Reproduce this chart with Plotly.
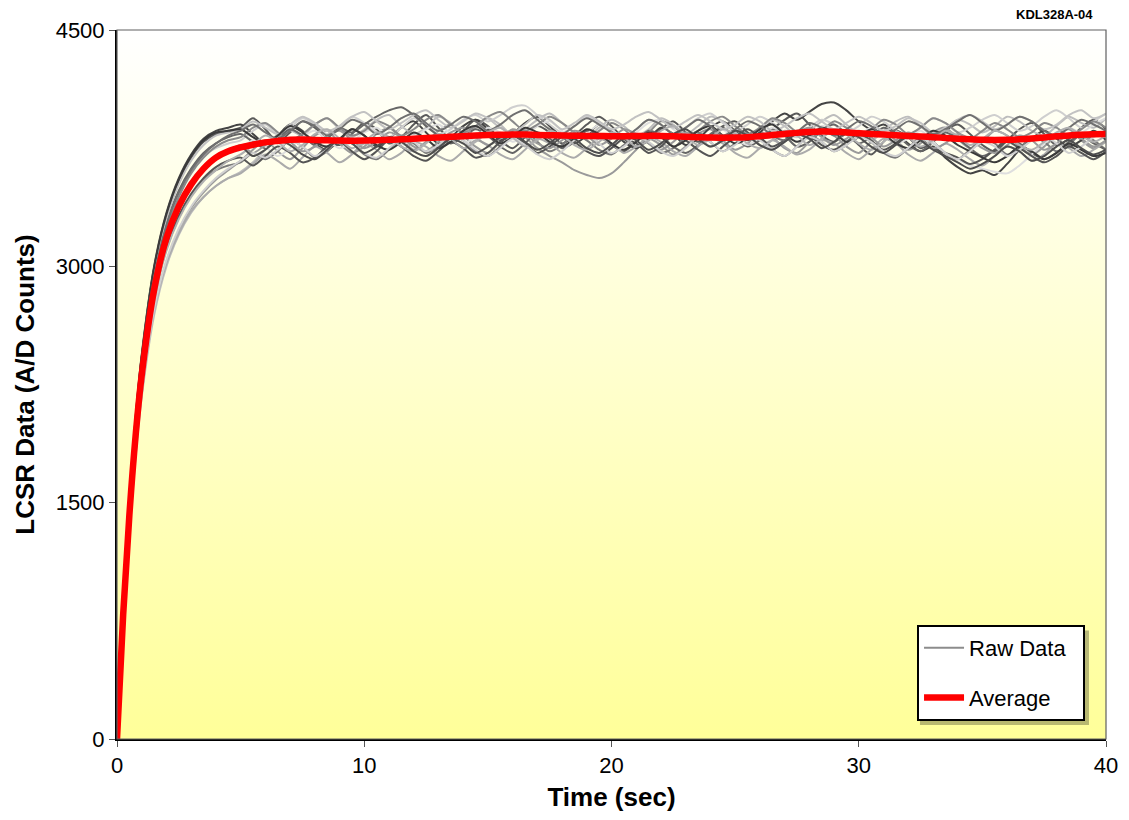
import plotly.graph_objects as go

# ---------------- data ----------------
TIME = [0, 0.25, 0.5, 0.75, 1, 1.5, 2, 2.5, 3, 3.5, 4, 4.5,
        5, 5.5, 6, 6.5, 7, 7.5, 8, 8.5, 9, 9.5,
        10, 10.5, 11, 11.5, 12, 12.5, 13, 13.5, 14, 14.5,
        15, 15.5, 16, 16.5, 17, 17.5, 18, 18.5, 19, 19.5,
        20, 20.5, 21, 21.5, 22, 22.5, 23, 23.5, 24, 24.5,
        25, 25.5, 26, 26.5, 27, 27.5, 28, 28.5, 29, 29.5,
        30, 30.5, 31, 31.5, 32, 32.5, 33, 33.5, 34, 34.5,
        35, 35.5, 36, 36.5, 37, 37.5, 38, 38.5, 39, 39.5, 40]

raw_01 = [0, 850, 1500, 2020, 2420, 2980, 3320, 3540, 3690, 3790, 3840, 3860,
          3880, 3940, 3870, 3790, 3850, 3920, 3880, 3800, 3770, 3840,
          3910, 3870, 3780, 3820, 3900, 3960, 3880, 3810, 3860, 3930,
          3890, 3800, 3750, 3820, 3890, 3850, 3780, 3830, 3900, 3950,
          3890, 3810, 3760, 3800, 3870, 3920, 3850, 3790, 3830, 3890,
          3920, 3850, 3800, 3870, 3930, 3970, 3900, 3830, 3790, 3840,
          3770, 3710, 3790, 3860, 3820, 3750, 3790, 3860, 3900, 3840,
          3770, 3730, 3800, 3870, 3910, 3840, 3770, 3810, 3880, 3930, 3870]
raw_02 = [0, 730, 1330, 1810, 2190, 2720, 3030, 3230, 3370, 3470, 3550, 3610,
          3670, 3740, 3800, 3730, 3680, 3750, 3830, 3860, 3780, 3720,
          3760, 3840, 3880, 3810, 3740, 3790, 3860, 3900, 3830, 3760,
          3720, 3790, 3860, 3820, 3750, 3700, 3660, 3610, 3580, 3560,
          3590, 3660, 3740, 3810, 3770, 3710, 3760, 3840, 3870, 3800,
          3740, 3780, 3850, 3820, 3750, 3720, 3790, 3860, 3830, 3760,
          3720, 3790, 3850, 3800, 3740, 3780, 3850, 3880, 3810, 3750,
          3790, 3860, 3830, 3760, 3710, 3760, 3830, 3870, 3800, 3750, 3800]
raw_03 = [0, 860, 1520, 2040, 2440, 3000, 3340, 3560, 3710, 3810, 3860, 3880,
          3900, 3840, 3780, 3830, 3900, 3860, 3780, 3740, 3800, 3870,
          3830, 3760, 3810, 3880, 3920, 3850, 3780, 3820, 3890, 3930,
          3870, 3800, 3840, 3910, 3950, 3890, 3820, 3780, 3830, 3900,
          3860, 3790, 3750, 3810, 3880, 3840, 3770, 3810, 3880, 3920,
          3860, 3800, 3850, 3920, 3970, 3930, 3980, 4030, 4040, 3990,
          3920, 3870, 3900, 3850, 3780, 3730, 3760, 3690, 3630, 3590,
          3610, 3580, 3650, 3740, 3810, 3860, 3810, 3760, 3800, 3860, 3800]
raw_04 = [0, 720, 1310, 1790, 2170, 2690, 3000, 3200, 3340, 3440, 3510, 3560,
          3600, 3660, 3740, 3800, 3860, 3830, 3900, 3940, 3870, 3820,
          3870, 3930, 3960, 3890, 3840, 3880, 3950, 3910, 3840, 3880,
          3940, 3900, 3830, 3870, 3930, 3970, 3910, 3850, 3820, 3880,
          3930, 3890, 3830, 3870, 3940, 3900, 3840, 3890, 3950, 3920,
          3850, 3810, 3870, 3930, 3890, 3830, 3860, 3920, 3960, 3900,
          3840, 3800, 3860, 3920, 3950, 3890, 3830, 3870, 3930, 3900,
          3850, 3890, 3950, 3920, 3860, 3830, 3890, 3950, 3910, 3880, 3940]
raw_05 = [0, 760, 1380, 1870, 2250, 2790, 3110, 3310, 3450, 3550, 3610, 3640,
          3660, 3720, 3680, 3730, 3800, 3760, 3690, 3730, 3800, 3780,
          3710, 3680, 3740, 3810, 3780, 3720, 3760, 3830, 3800, 3730,
          3700, 3760, 3830, 3860, 3790, 3730, 3770, 3840, 3800, 3740,
          3710, 3770, 3820, 3780, 3720, 3750, 3820, 3850, 3790, 3730,
          3780, 3840, 3810, 3740, 3700, 3760, 3830, 3790, 3730, 3770,
          3830, 3790, 3720, 3690, 3750, 3820, 3790, 3720, 3680, 3740,
          3810, 3780, 3710, 3750, 3820, 3790, 3730, 3770, 3840, 3800, 3740]
raw_06 = [0, 820, 1460, 1970, 2370, 2920, 3250, 3460, 3600, 3700, 3750, 3780,
          3800, 3860, 3900, 3840, 3880, 3940, 3900, 3840, 3890, 3950,
          3910, 3850, 3820, 3880, 3940, 3900, 3840, 3870, 3930, 3960,
          3920, 3960, 4010, 4020, 3960, 3900, 3850, 3890, 3950, 3910,
          3850, 3820, 3870, 3930, 3900, 3840, 3880, 3940, 3970, 3910,
          3860, 3900, 3950, 3910, 3850, 3820, 3880, 3930, 3900, 3850,
          3890, 3950, 3920, 3860, 3830, 3880, 3940, 3910, 3850, 3880,
          3930, 3960, 3910, 3860, 3890, 3950, 3990, 3940, 3880, 3920, 3970]
raw_07 = [0, 830, 1470, 1980, 2380, 2930, 3270, 3480, 3620, 3720, 3780, 3820,
          3840, 3790, 3750, 3810, 3870, 3830, 3770, 3810, 3880, 3850,
          3900, 3950, 3990, 4010, 3960, 3890, 3830, 3780, 3820, 3870,
          3830, 3760, 3720, 3780, 3850, 3810, 3750, 3790, 3860, 3830,
          3770, 3730, 3790, 3860, 3830, 3760, 3720, 3770, 3840, 3880,
          3820, 3760, 3800, 3870, 3830, 3760, 3790, 3860, 3900, 3840,
          3780, 3820, 3880, 3840, 3770, 3730, 3790, 3850, 3810, 3750,
          3700, 3740, 3810, 3780, 3720, 3680, 3720, 3790, 3830, 3780, 3740]
raw_08 = [0, 740, 1340, 1820, 2200, 2720, 3020, 3210, 3350, 3440, 3510, 3560,
          3590, 3650, 3710, 3670, 3620, 3690, 3760, 3720, 3660, 3710,
          3780, 3740, 3680, 3720, 3790, 3760, 3700, 3670, 3730, 3800,
          3770, 3710, 3680, 3740, 3810, 3780, 3720, 3690, 3750, 3810,
          3780, 3720, 3760, 3820, 3790, 3730, 3700, 3760, 3820, 3780,
          3720, 3690, 3750, 3800, 3760, 3710, 3740, 3800, 3780, 3720,
          3680, 3740, 3810, 3780, 3710, 3670, 3720, 3780, 3740, 3680,
          3640, 3700, 3760, 3730, 3670, 3710, 3780, 3750, 3700, 3740, 3790]
raw_09 = [0, 790, 1420, 1920, 2310, 2850, 3180, 3380, 3520, 3620, 3680, 3720,
          3740, 3800, 3760, 3700, 3750, 3820, 3860, 3800, 3750, 3790,
          3850, 3880, 3820, 3770, 3810, 3870, 3900, 3840, 3780, 3820,
          3880, 3850, 3790, 3830, 3890, 3920, 3860, 3800, 3840, 3900,
          3870, 3810, 3850, 3910, 3930, 3870, 3820, 3860, 3910, 3870,
          3810, 3770, 3820, 3880, 3850, 3790, 3830, 3890, 3860, 3800,
          3830, 3880, 3840, 3780, 3810, 3860, 3790, 3720, 3680, 3640,
          3620, 3600, 3590, 3640, 3710, 3780, 3840, 3880, 3850, 3900, 3940]
raw_10 = [0, 810, 1450, 1960, 2360, 2900, 3230, 3440, 3590, 3690, 3760, 3800,
          3820, 3880, 3910, 3850, 3800, 3840, 3900, 3940, 3880, 3830,
          3860, 3920, 3890, 3830, 3870, 3930, 3960, 3900, 3850, 3890,
          3950, 3980, 3920, 3860, 3900, 3950, 3910, 3850, 3810, 3860,
          3910, 3870, 3810, 3850, 3920, 3890, 3830, 3860, 3920, 3950,
          3890, 3840, 3880, 3940, 3910, 3850, 3810, 3860, 3920, 3880,
          3830, 3870, 3930, 3900, 3840, 3880, 3940, 3910, 3850, 3810,
          3860, 3910, 3870, 3820, 3850, 3910, 3880, 3830, 3870, 3920, 3880]
raw_11 = [0, 770, 1390, 1880, 2260, 2800, 3120, 3320, 3460, 3560, 3630, 3670,
          3690, 3640, 3700, 3760, 3720, 3660, 3690, 3760, 3790, 3730,
          3680, 3730, 3800, 3760, 3700, 3670, 3730, 3790, 3750, 3690,
          3720, 3790, 3830, 3780, 3720, 3760, 3820, 3790, 3730, 3700,
          3750, 3810, 3780, 3720, 3760, 3830, 3800, 3740, 3700, 3760,
          3820, 3870, 3820, 3760, 3800, 3860, 3830, 3770, 3740, 3790,
          3840, 3800, 3740, 3780, 3840, 3810, 3750, 3720, 3690, 3650,
          3680, 3740, 3790, 3750, 3700, 3660, 3700, 3760, 3720, 3680, 3730]
raw_12 = [0, 840, 1490, 2010, 2410, 2970, 3300, 3520, 3670, 3770, 3830, 3850,
          3870, 3920, 3880, 3840, 3900, 3950, 3910, 3860, 3890, 3950,
          3980, 3920, 3870, 3910, 3960, 3990, 3930, 3880, 3920, 3970,
          3940, 3880, 3850, 3900, 3960, 3930, 3870, 3910, 3960, 3920,
          3870, 3900, 3950, 3980, 3930, 3880, 3920, 3960, 3920, 3870,
          3900, 3950, 3920, 3860, 3890, 3940, 3970, 3920, 3870, 3910,
          3950, 3910, 3860, 3890, 3940, 3910, 3850, 3880, 3930, 3960,
          3920, 3870, 3900, 3950, 3920, 3870, 3900, 3960, 3990, 3940, 3970]
raw_13 = [0, 780, 1410, 1910, 2300, 2840, 3170, 3370, 3510, 3610, 3680, 3730,
          3770, 3720, 3770, 3830, 3790, 3730, 3760, 3830, 3860, 3800,
          3750, 3790, 3850, 3820, 3760, 3730, 3790, 3850, 3880, 3820,
          3770, 3810, 3870, 3840, 3780, 3750, 3800, 3860, 3830, 3770,
          3810, 3870, 3840, 3780, 3740, 3790, 3850, 3820, 3760, 3800,
          3860, 3830, 3770, 3740, 3790, 3850, 3880, 3820, 3770, 3810,
          3860, 3820, 3760, 3800, 3850, 3810, 3750, 3780, 3840, 3810,
          3750, 3720, 3770, 3830, 3800, 3740, 3780, 3840, 3810, 3760, 3800]
raw_14 = [0, 850, 1510, 2030, 2430, 2990, 3330, 3550, 3700, 3800, 3850, 3860,
          3870, 3820, 3780, 3830, 3890, 3850, 3790, 3760, 3810, 3870,
          3830, 3770, 3740, 3790, 3850, 3810, 3750, 3790, 3860, 3890,
          3840, 3780, 3820, 3880, 3850, 3790, 3760, 3810, 3870, 3840,
          3780, 3740, 3790, 3850, 3820, 3760, 3800, 3860, 3890, 3830,
          3780, 3810, 3870, 3900, 3840, 3790, 3830, 3880, 3850, 3790,
          3820, 3870, 3840, 3780, 3750, 3800, 3860, 3830, 3770, 3730,
          3690, 3660, 3700, 3760, 3730, 3680, 3720, 3780, 3740, 3700, 3720]
raw_15 = [0, 735, 1335, 1815, 2195, 2725, 3040, 3240, 3380, 3480, 3560, 3620,
          3670, 3720, 3690, 3740, 3800, 3760, 3700, 3740, 3810, 3780,
          3720, 3690, 3750, 3810, 3790, 3730, 3770, 3830, 3800, 3740,
          3700, 3750, 3810, 3770, 3710, 3680, 3730, 3800, 3840, 3780,
          3720, 3760, 3820, 3790, 3730, 3700, 3750, 3820, 3790, 3730,
          3770, 3830, 3800, 3740, 3700, 3760, 3820, 3790, 3730, 3770,
          3820, 3790, 3730, 3700, 3750, 3810, 3780, 3720, 3680, 3730,
          3790, 3760, 3700, 3740, 3800, 3830, 3780, 3720, 3760, 3820, 3860]
raw_16 = [0, 825, 1465, 1975, 2375, 2930, 3260, 3470, 3610, 3710, 3780, 3830,
          3860, 3900, 3850, 3810, 3860, 3920, 3890, 3830, 3870, 3930,
          3900, 3840, 3880, 3940, 3970, 3910, 3860, 3900, 3950, 3920,
          3860, 3900, 3960, 3990, 3930, 3870, 3840, 3890, 3940, 3900,
          3850, 3820, 3870, 3930, 3900, 3840, 3880, 3930, 3890, 3830,
          3870, 3920, 3890, 3830, 3800, 3850, 3910, 3880, 3830, 3870,
          3920, 3890, 3830, 3870, 3920, 3890, 3840, 3870, 3920, 3960,
          3910, 3860, 3900, 3950, 3920, 3860, 3830, 3880, 3930, 3900, 3860]
raw_17 = [0, 755, 1370, 1860, 2240, 2780, 3100, 3300, 3440, 3540, 3610, 3670,
          3710, 3770, 3830, 3790, 3730, 3770, 3840, 3870, 3810, 3750,
          3790, 3850, 3820, 3760, 3730, 3780, 3840, 3810, 3750, 3790,
          3850, 3880, 3820, 3760, 3800, 3860, 3830, 3770, 3740, 3790,
          3850, 3820, 3760, 3800, 3860, 3890, 3830, 3770, 3810, 3870,
          3840, 3780, 3750, 3800, 3860, 3830, 3770, 3810, 3870, 3840,
          3780, 3740, 3790, 3850, 3820, 3760, 3800, 3860, 3830, 3770,
          3810, 3860, 3830, 3770, 3740, 3790, 3850, 3880, 3830, 3790, 3830]
raw_18 = [0, 795, 1425, 1925, 2315, 2860, 3190, 3390, 3530, 3630, 3700, 3740,
          3760, 3700, 3740, 3800, 3770, 3710, 3680, 3740, 3810, 3780,
          3720, 3760, 3820, 3790, 3730, 3700, 3750, 3810, 3780, 3720,
          3760, 3820, 3850, 3790, 3740, 3780, 3840, 3810, 3750, 3720,
          3770, 3830, 3800, 3740, 3780, 3840, 3870, 3810, 3760, 3800,
          3860, 3830, 3770, 3740, 3790, 3840, 3810, 3750, 3790, 3850,
          3820, 3760, 3720, 3770, 3830, 3800, 3740, 3700, 3660, 3620,
          3650, 3700, 3760, 3730, 3670, 3700, 3760, 3800, 3750, 3710, 3740]

RAW_SERIES = [raw_01, raw_02, raw_03, raw_04, raw_05, raw_06, raw_07, raw_08, raw_09,
              raw_10, raw_11, raw_12, raw_13, raw_14, raw_15, raw_16, raw_17, raw_18]
RAW_COLORS = ["#5a5a5a", "#9a9a9a", "#444444", "#bdbdbd", "#7a7a7a", "#cfcfcf",
              "#666666", "#ababab", "#dedede", "#8a8a8a", "#555555", "#c2c2c2",
              "#999999", "#3a3a3a", "#d0d0d0", "#707070", "#b0b0b0", "#4e4e4e"]

average = [0, 790, 1420, 1920, 2310, 2850, 3180, 3380, 3520, 3620, 3690, 3730,
           3755, 3772, 3787, 3796, 3803, 3805, 3802, 3800, 3798, 3797,
           3798, 3800, 3803, 3806, 3810, 3814, 3818, 3822, 3826, 3830,
           3833, 3835, 3836, 3836, 3834, 3832, 3830, 3829, 3828, 3827,
           3826, 3826, 3827, 3828, 3828, 3826, 3823, 3820, 3817, 3816,
           3817, 3820, 3826, 3833, 3840, 3847, 3852, 3855, 3854, 3850,
           3845, 3840, 3836, 3832, 3828, 3824, 3820, 3815, 3810, 3806,
           3803, 3802, 3803, 3806, 3811, 3818, 3825, 3831, 3835, 3838, 3840]

X_TICKS = [0, 10, 20, 30, 40]
Y_TICKS = [0, 1500, 3000, 4500]
X_RANGE = [0, 40]
Y_RANGE = [0, 4500]

for s in RAW_SERIES + [average]:
    assert len(s) == len(TIME), len(s)

FONT = "Arial, Liberation Sans, sans-serif"
NB = "\u00a0"

# ---------------- figure ----------------
fig = go.Figure()

# gradient plot background (white at top to pale yellow at bottom)
fig.add_trace(go.Scatter(
    x=[X_RANGE[0], X_RANGE[1], X_RANGE[1], X_RANGE[0], X_RANGE[0]],
    y=[Y_RANGE[0], Y_RANGE[0], Y_RANGE[1], Y_RANGE[1], Y_RANGE[0]],
    mode="lines", fill="toself", line=dict(width=0),
    fillgradient=dict(type="vertical",
                      colorscale=[[0, "#FFFF99"], [1, "#FFFFFF"]]),
    hoverinfo="skip", showlegend=False))

for vals, col in zip(RAW_SERIES, RAW_COLORS):
    fig.add_trace(go.Scatter(
        x=TIME, y=vals, mode="lines",
        line=dict(color=col, width=2, shape="spline", smoothing=0.8),
        name="Raw Data", legendgroup="raw", showlegend=False))

# legend entry for raw data
fig.add_trace(go.Scatter(
    x=[None], y=[None], mode="lines", line=dict(color="#8c8c8c", width=2),
    name="Raw Data" + NB * 2, legendgroup="raw", showlegend=True))

fig.add_trace(go.Scatter(
    x=TIME, y=average, mode="lines",
    line=dict(color="#FF0000", width=6.5, shape="spline", smoothing=1),
    name="Average", legendgroup="avg", showlegend=True))

# top and right frame
fig.add_shape(type="rect", xref="x domain", yref="y domain",
              x0=0, x1=1, y0=0, y1=1, line=dict(color="#606060", width=1.2),
              fillcolor="rgba(0,0,0,0)", layer="above")

# legend drop shadow
fig.add_shape(type="rect", xref="x domain", yref="y domain",
              x0=0.8119, x1=0.9828, y0=0.0197, y1=0.153,
              line=dict(width=0), fillcolor="rgba(0,0,0,0.28)", layer="above")

fig.add_annotation(text="<b>KDL328A-04</b>", xref="paper", yref="paper",
                   x=0.9889, y=1.0212, xanchor="right", yanchor="middle",
                   showarrow=False, font=dict(family=FONT, size=13, color="black"))

# page body has an 8px margin: size/shift the figure so the plot area lands in place
fig.update_layout(
    width=1113, height=804,
    margin=dict(l=109, r=15, t=22, b=73, autoexpand=False),
    paper_bgcolor="white", plot_bgcolor="white",
    font=dict(family=FONT, size=22, color="black"),
    showlegend=True,
    legend=dict(x=0.9788, y=0.0254, xanchor="right", yanchor="bottom",
                bgcolor="white", bordercolor="black", borderwidth=2,
                font=dict(family=FONT, size=22, color="black"),
                traceorder="grouped", tracegroupgap=18,
                itemwidth=40),
    xaxis=dict(range=X_RANGE, tickvals=X_TICKS, showgrid=False, zeroline=False,
               automargin=False,
               showline=True, linecolor="black", linewidth=2,
               ticks="outside", ticklen=6, tickcolor="#555555",
               tickfont=dict(family=FONT, size=22),
               title=dict(text="<b>Time (sec)</b>", font=dict(family=FONT, size=26),
                          standoff=14)),
    yaxis=dict(range=Y_RANGE, tickvals=Y_TICKS, showgrid=False, zeroline=False,
               automargin=False,
               showline=True, linecolor="black", linewidth=2,
               ticks="outside", ticklen=6, tickcolor="#555555",
               tickfont=dict(family=FONT, size=22),
               title=dict(text="<b>LCSR Data (A/D Counts)</b>",
                          font=dict(family=FONT, size=26), standoff=14)),
)

fig.write_html("out.html")
